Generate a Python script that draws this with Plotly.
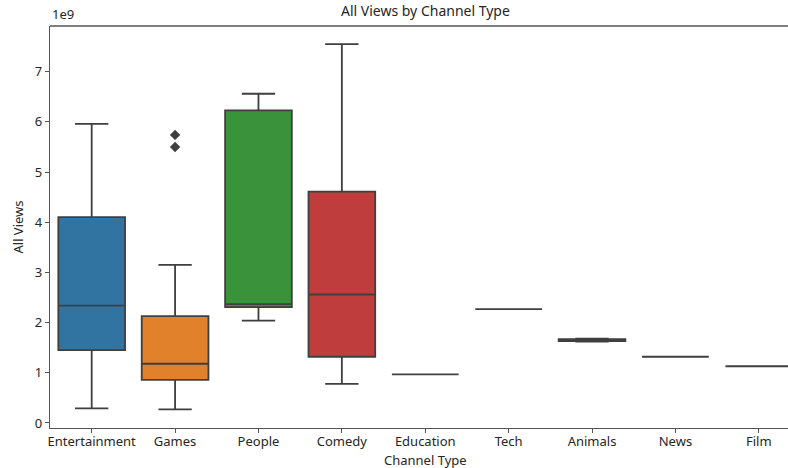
import plotly.graph_objects as go

# Box statistics of total views per channel type (in views)
categories = ["Entertainment", "Games", "People", "Comedy", "Education",
              "Tech", "Animals", "News", "Film"]
lower_whisker = [0.29e9, 0.27e9, 2.04e9, 0.78e9, 0.97e9, 2.27e9, 1.62e9, 1.32e9, 1.13e9]
q1_values = [1.45e9, 0.86e9, 2.31e9, 1.32e9, 0.97e9, 2.27e9, 1.63e9, 1.32e9, 1.13e9]
medians = [2.34e9, 1.18e9, 2.37e9, 2.56e9, 0.97e9, 2.27e9, 1.65e9, 1.32e9, 1.13e9]
q3_values = [4.10e9, 2.13e9, 6.23e9, 4.61e9, 0.97e9, 2.27e9, 1.67e9, 1.32e9, 1.13e9]
upper_whisker = [5.96e9, 3.15e9, 6.56e9, 7.55e9, 0.97e9, 2.27e9, 1.68e9, 1.32e9, 1.13e9]
outlier_cats = ["Games", "Games"]
outlier_values = [5.74e9, 5.50e9]

palette = ["#3274a1", "#e1812c", "#3a923a", "#c03d3e", "#9372b2",
           "#845b53", "#d684bd", "#7f7f7f", "#a9aa35"]
ytick_vals = [0, 1, 2, 3, 4, 5, 6, 7]

line_gray = "#3f3f3f"
spine_gray = "#555555"
text_color = "#262626"
font_family = "Noto Sans, Open Sans, DejaVu Sans, sans-serif"

fig = go.Figure()
for i, cat in enumerate(categories):
    fig.add_trace(go.Box(
        x=[cat],
        q1=[q1_values[i]], median=[medians[i]], q3=[q3_values[i]],
        lowerfence=[lower_whisker[i]], upperfence=[upper_whisker[i]],
        fillcolor=palette[i],
        line=dict(color=line_gray, width=1.8),
        whiskerwidth=0.5,
        width=0.8,
        boxpoints=False,
        hoverinfo="skip",
        showlegend=False,
    ))

fig.add_trace(go.Scatter(
    x=outlier_cats, y=outlier_values, mode="markers",
    marker=dict(symbol="diamond", size=8, color=line_gray),
    showlegend=False, hoverinfo="skip",
))

fig.update_layout(
    width=788, height=468,
    margin=dict(l=50, r=0, t=26, b=40),
    plot_bgcolor="white", paper_bgcolor="white",
    font=dict(family=font_family, size=13, color=text_color),
    boxmode="overlay",
    xaxis=dict(
        type="category", categoryorder="array", categoryarray=categories,
        range=[-0.5, 8.35],
        showline=True, linecolor=spine_gray, linewidth=1.3,
        ticks="outside", ticklen=4, tickcolor=spine_gray, tickwidth=1.2,
        ticklabelstandoff=-3,
        showgrid=False, zeroline=False,
        tickfont=dict(size=13),
    ),
    yaxis=dict(
        range=[-0.1e9, 7.91e9],
        tickvals=[v * 1e9 for v in ytick_vals],
        ticktext=[str(v) for v in ytick_vals],
        showline=True, linecolor=spine_gray, linewidth=1.3,
        ticks="outside", ticklen=4, tickcolor=spine_gray, tickwidth=1.2,
        showgrid=False, zeroline=False,
        tickfont=dict(size=13),
        title=dict(text="All Views", font=dict(size=13), standoff=8),
    ),
    shapes=[
        # top spine (the right spine falls outside the canvas)
        dict(type="line", xref="paper", yref="paper", x0=0, x1=1, y0=1, y1=1,
             line=dict(color=spine_gray, width=1.3)),
    ],
    annotations=[
        dict(text="All Views by Channel Type", x=4, xref="x", y=1, yref="paper",
             yanchor="bottom", yshift=4, showarrow=False,
             font=dict(size=14, color=text_color)),
        dict(text="1e9", x=0, xref="paper", xanchor="left", y=1, yref="paper",
             yanchor="bottom", yshift=1, showarrow=False,
             font=dict(size=13, color=text_color)),
        dict(text="Channel Type", x=4, xref="x", y=0, yref="paper",
             yanchor="top", yshift=-22, borderpad=0, showarrow=False,
             font=dict(size=13, color=text_color)),
    ],
)

fig.write_html("out.html")
